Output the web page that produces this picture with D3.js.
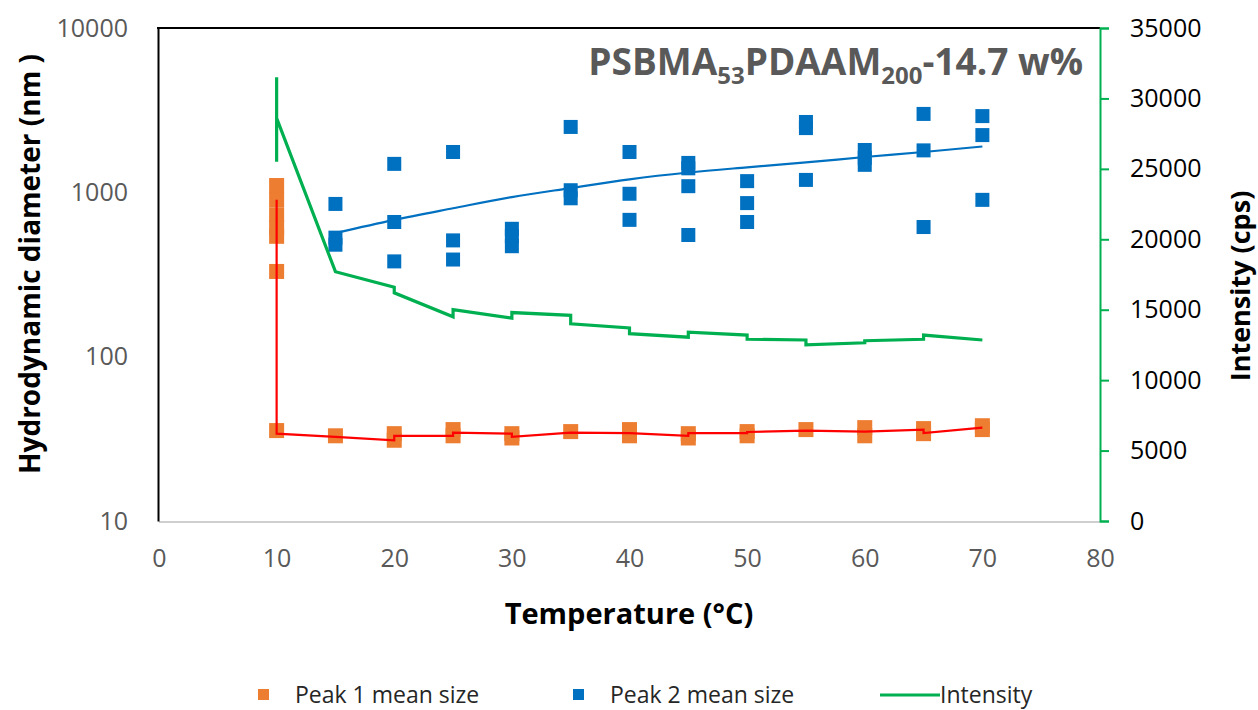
<!DOCTYPE html>
<html>
<head>
<meta charset="utf-8">
<script src="https://cdn.jsdelivr.net/npm/d3@7"></script>
<style>
  body { margin: 0; background: #fff; }
  svg { display: block; font-family: "Open Sans", sans-serif; }
</style>
</head>
<body>
<svg width="1258" height="710"></svg>
<script>
// peak 1 (orange squares)
var peak1T    = [10, 10, 10, 10, 10, 10, 10, 15, 20, 20, 25, 25, 30, 30, 35, 40, 40, 45, 45, 50, 50, 55, 60, 60, 65, 65, 70, 70];
var peak1Size = [1100, 900, 730, 610, 540, 330, 35.5, 33, 34, 31, 36, 33, 34, 32, 35, 36, 33, 34, 32, 35, 33, 36, 37, 33, 36.5, 34, 38, 36];

// peak 2 (blue squares)
var peak2T    = [15, 15, 15, 20, 20, 20, 25, 25, 25, 30, 30, 30, 35, 35, 35, 40, 40, 40, 45, 45, 45, 45, 50, 50, 50, 55, 55, 55, 60, 60, 60, 65, 65, 65, 70, 70, 70];
var peak2Size = [850, 530, 480, 1490, 660, 380, 1760, 510, 390, 600, 540, 470, 2500, 1030, 920, 1760, 980, 680, 1510, 1400, 1090, 550, 1170, 860, 660, 2680, 2460, 1190, 1810, 1620, 1470, 3000, 1800, 615, 2910, 2230, 900];

// blue trend line
var trendT    = [15, 20, 25, 30, 35, 40, 45, 50, 55, 60, 65, 70];
var trendSize = [565, 680, 800, 936, 1062, 1200, 1320, 1420, 1520, 1640, 1760, 1900];

// red line through peak 1
var redT    = [10, 10, 15, 20, 20, 25, 25, 30, 30, 35, 40, 45, 45, 50, 50, 55, 60, 65, 65, 70];
var redSize = [900, 34, 32.5, 31, 33, 33, 34.5, 34, 32.5, 34.5, 34.3, 33, 34.3, 34.3, 34.8, 35.5, 35, 36, 34.3, 37];

// intensity (green, right axis)
var intT   = [10, 10, 10, 15, 20, 20, 25, 25, 30, 30, 35, 35, 40, 40, 45, 45, 50, 50, 55, 55, 60, 60, 65, 65, 70];
var intVal = [31500, 25500, 28600, 17700, 16600, 16200, 14500, 15000, 14400, 14800, 14600, 14000, 13700, 13300, 13050, 13400, 13200, 12900, 12850, 12500, 12650, 12800, 12900, 13200, 12850];

var xTicks = [0, 10, 20, 30, 40, 50, 60, 70, 80];
var yLeftTicks = [10, 100, 1000, 10000];
var yRightTicks = [0, 5000, 10000, 15000, 20000, 25000, 30000, 35000];

var ORANGE = "#ED7D31", BLUE = "#0070C0", GREEN = "#00B050", RED = "#FF0000";

function draw() {
  var svg = d3.select("svg");
  var pLeft = 159, pRight = 1100, pTop = 28, pBottom = 521;

  var x = d3.scaleLinear().domain([0, 80]).range([pLeft, pRight]);
  var yL = d3.scaleLog().domain([10, 10000]).range([pBottom, pTop]);
  var yR = d3.scaleLinear().domain([0, 35000]).range([pBottom, pTop]);

  function zip(a, b) { return a.map(function(d, i) { return [d, b[i]]; }); }

  // frame
  svg.append("line").attr("x1", pLeft).attr("x2", pRight).attr("y1", pBottom + 1).attr("y2", pBottom + 1)
    .attr("stroke", "#BFBFBF").attr("stroke-width", 1.5);
  svg.append("line").attr("x1", pLeft - 2).attr("x2", pRight).attr("y1", pTop).attr("y2", pTop)
    .attr("stroke", "#000").attr("stroke-width", 2);

  // left axis
  var gL = svg.append("g").attr("transform", "translate(" + (pLeft - 1) + ",0)")
    .call(d3.axisLeft(yL).tickValues(yLeftTicks).tickFormat(d3.format("d")).tickSize(0).tickPadding(30));
  gL.select(".domain").attr("stroke", "#000").attr("stroke-width", 2);
  gL.selectAll("text").attr("fill", "#595959").style("font-size", "25px").style("font-family", "Open Sans");

  // bottom axis
  var gB = svg.append("g").attr("transform", "translate(0," + pBottom + ")")
    .call(d3.axisBottom(x).tickValues(xTicks).tickSize(0).tickPadding(28));
  gB.select(".domain").remove();
  gB.selectAll("text").attr("fill", "#595959").style("font-size", "25px").style("font-family", "Open Sans");

  // right axis
  var gR = svg.append("g").attr("transform", "translate(" + pRight + ",0)")
    .call(d3.axisRight(yR).tickValues(yRightTicks).tickFormat(d3.format("d"))
      .tickSizeOuter(0).tickSize(9).tickPadding(21));
  gR.select(".domain").attr("stroke", GREEN).attr("stroke-width", 2);
  gR.selectAll("line").attr("stroke", GREEN).attr("stroke-width", 2);
  gR.selectAll("text").attr("fill", "#000").style("font-size", "25px").style("font-family", "Open Sans");

  // markers
  var s1 = 15, s2 = 14;
  svg.append("g").selectAll("rect").data(zip(peak1T, peak1Size)).enter().append("rect")
    .attr("x", function(d) { return x(d[0]) - s1 / 2; })
    .attr("y", function(d) { return yL(d[1]) - s1 / 2; })
    .attr("width", s1).attr("height", s1).attr("fill", ORANGE);

  svg.append("g").selectAll("rect").data(zip(peak2T, peak2Size)).enter().append("rect")
    .attr("x", function(d) { return x(d[0]) - s2 / 2; })
    .attr("y", function(d) { return yL(d[1]) - s2 / 2; })
    .attr("width", s2).attr("height", s2).attr("fill", BLUE);

  // lines
  var trendLine = d3.line().curve(d3.curveMonotoneX)
    .x(function(d) { return x(d[0]); }).y(function(d) { return yL(d[1]); });
  var lineL = d3.line().x(function(d) { return x(d[0]); }).y(function(d) { return yL(d[1]); });
  var lineR = d3.line().x(function(d) { return x(d[0]); }).y(function(d) { return yR(d[1]); });

  svg.append("path").datum(zip(trendT, trendSize)).attr("d", trendLine)
    .attr("fill", "none").attr("stroke", BLUE).attr("stroke-width", 2.2);
  svg.append("path").datum(zip(redT, redSize)).attr("d", lineL)
    .attr("fill", "none").attr("stroke", RED).attr("stroke-width", 2.2);
  svg.append("path").datum(zip(intT, intVal)).attr("d", lineR)
    .attr("fill", "none").attr("stroke", GREEN).attr("stroke-width", 3.2);

  // title in plot
  var title = svg.append("text").attr("x", 1083).attr("y", 75).attr("text-anchor", "end")
    .attr("fill", "#595959").style("font-size", "37px").style("font-weight", "bold");
  title.append("tspan").text("PSBMA");
  title.append("tspan").text("53").attr("dy", 9).style("font-size", "24px");
  title.append("tspan").text("PDAAM").attr("dy", -9);
  title.append("tspan").text("200").attr("dy", 9).style("font-size", "24px");
  title.append("tspan").text("-14.7 w%").attr("dy", -9);

  // axis titles
  svg.append("text").attr("transform", "translate(40,264) rotate(-90)").attr("text-anchor", "middle")
    .style("font-size", "28px").style("font-weight", "bold").attr("fill", "#000")
    .text("Hydrodynamic diameter (nm )");
  svg.append("text").attr("transform", "translate(1250,286) rotate(-90)").attr("text-anchor", "middle")
    .style("font-size", "27px").style("font-weight", "bold").attr("fill", "#000")
    .text("Intensity (cps)");
  svg.append("text").attr("x", 629).attr("y", 624).attr("text-anchor", "middle")
    .style("font-size", "29px").style("font-weight", "bold").attr("fill", "#000")
    .text("Temperature (°C)");

  // legend
  var legend = [
    { label: "Peak 1 mean size", color: ORANGE, type: "rect", x: 258, tx: 295 },
    { label: "Peak 2 mean size", color: BLUE, type: "rect", x: 573, tx: 610 },
    { label: "Intensity", color: GREEN, type: "line", x: 880, tx: 940 }
  ];
  var lg = svg.append("g");
  legend.forEach(function(d) {
    if (d.type == "rect") {
      lg.append("rect").attr("x", d.x).attr("y", 689).attr("width", 11).attr("height", 11).attr("fill", d.color);
    } else {
      lg.append("line").attr("x1", d.x).attr("x2", d.x + 60).attr("y1", 695).attr("y2", 695)
        .attr("stroke", d.color).attr("stroke-width", 3);
    }
    lg.append("text").attr("x", d.tx).attr("y", 703).text(d.label)
      .style("font-size", "23px").attr("fill", "#262626");
  });
}

draw();
</script>
</body>
</html>
